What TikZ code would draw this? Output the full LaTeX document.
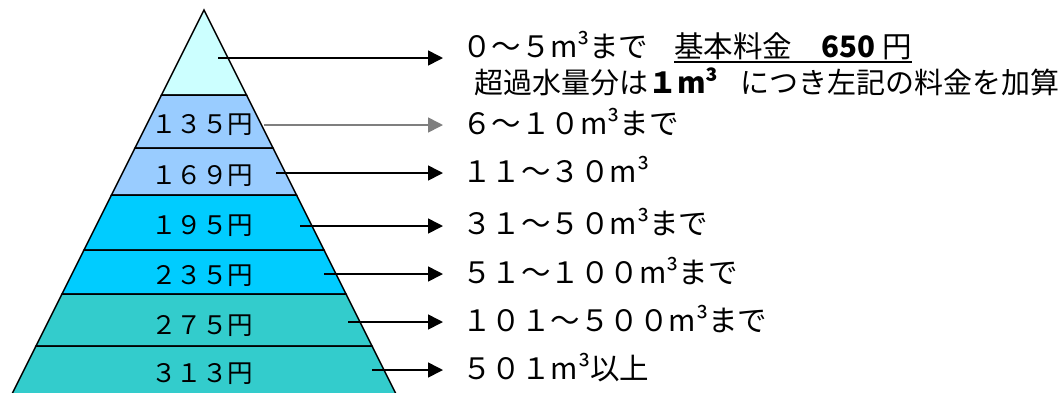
\documentclass[tikz,border=0pt]{standalone}
\usepackage{fontspec}
\setmainfont{Noto Sans CJK JP}
\usetikzlibrary{arrows.meta}
\definecolor{bandA}{HTML}{CCFFFF}
\definecolor{bandB}{HTML}{99CCFF}
\definecolor{bandC}{HTML}{00CCFF}
\definecolor{bandD}{HTML}{33CCCC}
\definecolor{arrgray}{HTML}{7F7F7F}
\begin{document}
\begin{tikzpicture}[x=1pt,y=-1pt,
  band/.style={draw=black,line width=1.5pt,line join=miter},
  lab/.style={inner sep=0pt,anchor=base,font=\fontsize{25.5}{30}\selectfont},
  txt/.style={inner sep=0pt,anchor=base west,font=\fontsize{29.5}{34}\selectfont},
  arr/.style={line width=1.6pt,-{Triangle[length=15pt,width=15pt]}},
  ul/.style={line width=1.6pt}]
\useasboundingbox (0,0) rectangle (1059,392);
% pyramid bands
\filldraw[band,fill=bandA] (204,10) -- (246.5,95) -- (161.5,95) -- cycle;
\filldraw[band,fill=bandB] (161.5,95) -- (246.5,95) -- (273,148) -- (135,148) -- cycle;
\filldraw[band,fill=bandB] (135,148) -- (273,148) -- (296.5,195) -- (111.5,195) -- cycle;
\filldraw[band,fill=bandC] (111.5,195) -- (296.5,195) -- (324,250) -- (84,250) -- cycle;
\filldraw[band,fill=bandC] (84,250) -- (324,250) -- (346,294) -- (62,294) -- cycle;
\filldraw[band,fill=bandD] (62,294) -- (346,294) -- (372,346) -- (36,346) -- cycle;
\filldraw[band,fill=bandD] (36,346) -- (372,346) -- (398,398) -- (10,398) -- cycle;
% band labels
\node[lab] (b1) at (202,133) {１３５円};
\node[lab] (b2) at (202,184) {１６９円};
\node[lab] (b3) at (202,234) {１９５円};
\node[lab] (b4) at (202,284) {２３５円};
\node[lab] (b5) at (202,334) {２７５円};
\node[lab] (b6) at (202,382) {３１３円};
% right texts
\node[txt] (t0) at (462,57) {０～５m\kern-1pt³まで};
\node[txt] (k) at (674,57) {基本料金　\textbf{650} 円};
\draw[ul] ([yshift=-5pt]k.base west) -- ([yshift=-5pt]k.base east);
\node[txt,font=\fontsize{29}{34}\selectfont] (t1) at (474,93) {超過水量分は\textbf{１m³}\hspace{0.75em}につき左記の料金を加算};
\node[txt] (t2) at (462,134) {６～１０m³まで};
\node[txt] (t3) at (462,182) {１１～３０m³};
\node[txt] (t4) at (462,234) {３１～５０m³まで};
\node[txt] (t5) at (462,283) {５１～１００m³まで};
\node[txt] (t6) at (462,331) {１０１～５００m³まで};
\node[txt] (t7) at (462,379) {５０１m³以上};
% arrows
\coordinate (s0) at (218,58);  \coordinate (e0) at (443,58);
\coordinate (s1) at (264,125); \coordinate (e1) at (443,125);
\coordinate (s2) at (276,173); \coordinate (e2) at (443,173);
\coordinate (s3) at (300,226); \coordinate (e3) at (443,226);
\coordinate (s4) at (324,274); \coordinate (e4) at (443,274);
\coordinate (s5) at (348,322); \coordinate (e5) at (443,322);
\coordinate (s6) at (372,370); \coordinate (e6) at (443,370);
\draw[arr] (s0) -- (e0);
\draw[arr,draw=arrgray,fill=arrgray] (s1) -- (e1);
\draw[arr] (s2) -- (e2);
\draw[arr] (s3) -- (e3);
\draw[arr] (s4) -- (e4);
\draw[arr] (s5) -- (e5);
\draw[arr] (s6) -- (e6);
\end{tikzpicture}
\end{document}
